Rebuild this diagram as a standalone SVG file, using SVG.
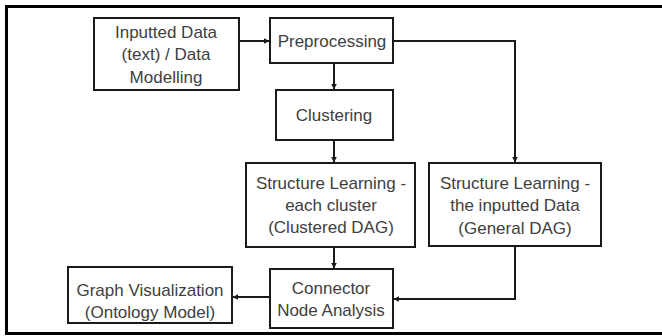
<svg xmlns="http://www.w3.org/2000/svg" width="662" height="336" viewBox="0 0 662 336">
<defs>
<marker id="ah" viewBox="0 0 10 10" refX="9" refY="5" markerWidth="6" markerHeight="6" orient="auto" markerUnits="userSpaceOnUse">
<path d="M0,0 L10,5 L0,10 z" fill="#1a1a1a"/>
</marker>
<style>
.box{fill:#fff;stroke:#1a1a1a;stroke-width:2}
.t{font-family:"Liberation Sans",Arial,sans-serif;font-size:17px;fill:#404040;text-anchor:middle;dominant-baseline:central}
.c{fill:none;stroke:#1a1a1a;stroke-width:2;marker-end:url(#ah)}
</style>
</defs>
<rect x="0" y="0" width="662" height="336" fill="#fff"/>
<rect x="6.5" y="6.5" width="700" height="327" fill="none" stroke="#000" stroke-width="3"/>
<g id="connectors">
<line class="c" x1="239" y1="41" x2="269" y2="41"/>
<line class="c" x1="334" y1="63" x2="334" y2="89"/>
<line class="c" x1="334" y1="140" x2="334" y2="162"/>
<polyline class="c" points="393,41 515,41 515,162"/>
<line class="c" x1="334" y1="247" x2="334" y2="268"/>
<polyline class="c" points="515,246 515,299 394,299"/>
<line class="c" x1="270" y1="297" x2="233" y2="297"/>
</g>
<g id="inputted">
<rect class="box" x="94" y="18" width="145" height="72"/>
<text class="t" x="166" y="32">Inputted Data</text>
<text class="t" x="166" y="54">(text) / Data</text>
<text class="t" x="166" y="77">Modelling</text>
</g>
<g id="preprocessing">
<rect class="box" x="270" y="18" width="123" height="45"/>
<text class="t" x="332" y="41">Preprocessing</text>
</g>
<g id="clustering">
<rect class="box" x="276" y="90" width="117" height="50"/>
<text class="t" x="334" y="115">Clustering</text>
</g>
<g id="sl-cluster">
<rect class="box" x="246" y="163" width="169" height="84"/>
<text class="t" x="331" y="183">Structure Learning -</text>
<text class="t" x="331" y="205">each cluster</text>
<text class="t" x="331" y="227">(Clustered DAG)</text>
</g>
<g id="sl-general">
<rect class="box" x="429" y="163" width="172" height="83"/>
<text class="t" x="515" y="183">Structure Learning -</text>
<text class="t" x="515" y="205">the inputted Data</text>
<text class="t" x="515" y="228">(General DAG)</text>
</g>
<g id="connector">
<rect class="box" x="270" y="269" width="123" height="59"/>
<text class="t" x="331" y="288">Connector</text>
<text class="t" x="331" y="310">Node Analysis</text>
</g>
<g id="graphvis">
<rect class="box" x="68" y="267" width="164" height="56"/>
<text class="t" x="150" y="290">Graph Visualization</text>
<text class="t" x="150" y="312">(Ontology Model)</text>
</g>
</svg>
